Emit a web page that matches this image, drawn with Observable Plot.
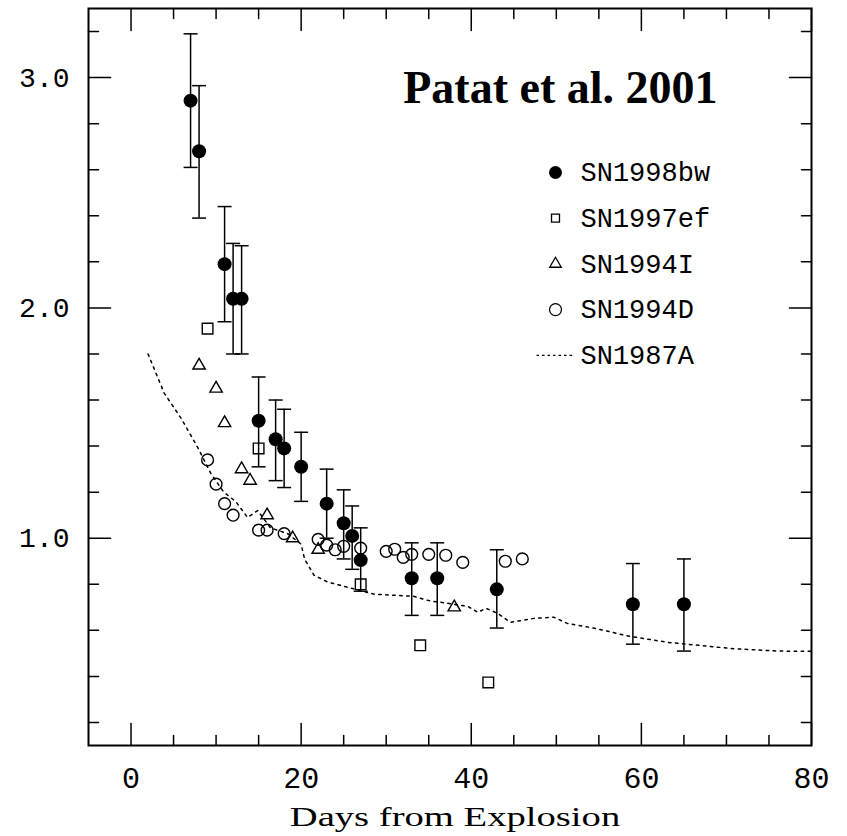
<!DOCTYPE html>
<html>
<head>
<meta charset="utf-8">
<script src="https://cdn.jsdelivr.net/npm/d3@7"></script>
<script src="https://cdn.jsdelivr.net/npm/@observablehq/plot@0.6"></script>
<style>
  html, body { margin: 0; padding: 0; background: #fff; }
  #chart svg { display: block; }
</style>
</head>
<body>
<div id="chart"></div>
<script>
// ---- Data ----
// SN1998bw : filled circles with error bars
const bwDay = [7, 8, 11, 12, 13, 15, 17, 18, 20, 23, 25, 26, 27, 33, 36, 43, 59, 65];
const bwVal = [2.90, 2.68, 2.19, 2.04, 2.04, 1.51, 1.43, 1.39, 1.31, 1.15, 1.065, 1.01, 0.905, 0.826, 0.826, 0.778, 0.713, 0.713];
const bwHi  = [3.19, 2.965, 2.44, 2.28, 2.27, 1.70, 1.60, 1.56, 1.46, 1.30, 1.21, 1.14, 1.045, 0.98, 0.98, 0.95, 0.89, 0.91];
const bwLo  = [2.61, 2.39, 1.94, 1.80, 1.80, 1.31, 1.25, 1.22, 1.16, 1.00, 0.91, 0.865, 0.77, 0.665, 0.665, 0.61, 0.54, 0.51];

// SN1997ef : open squares
const efDay = [9, 15, 27, 34, 42];
const efVal = [1.91, 1.39, 0.80, 0.535, 0.374];

// SN1994I : open triangles
const iDay = [8, 10, 11, 13, 14, 16, 19, 22, 38];
const iVal = [1.75, 1.65, 1.50, 1.30, 1.25, 1.10, 1.00, 0.95, 0.70];

// SN1994D : open circles
const dDay = [9, 10, 11, 12, 15, 16, 18, 22, 23, 24, 25, 27, 30, 31, 32, 33, 35, 37, 39, 44, 46];
const dVal = [1.34, 1.235, 1.15, 1.10, 1.035, 1.035, 1.02, 0.995, 0.97, 0.95, 0.965, 0.957, 0.943, 0.952, 0.917, 0.93, 0.93, 0.926, 0.895, 0.90, 0.91];

// SN1987A : dotted curve
const aDay = [2.0, 3.9, 5.9, 7.9, 9.4, 10.9, 12.3, 13.7, 14.9, 16.4, 18.4, 20.0, 20.4, 21.5, 23.1, 26.2, 28.6, 33.2, 35.3, 36.4, 39.6, 40.8, 41.7, 43.1, 44.6, 47.4, 49.7, 51.3, 54.4, 58.5, 63.1, 70.9, 76, 80];
const aVal = [1.80, 1.63, 1.52, 1.39, 1.28, 1.20, 1.16, 1.09, 1.12, 1.045, 1.02, 0.974, 0.91, 0.84, 0.81, 0.78, 0.757, 0.748, 0.726, 0.722, 0.704, 0.678, 0.696, 0.674, 0.635, 0.652, 0.657, 0.63, 0.61, 0.575, 0.548, 0.52, 0.51, 0.509];

// Axes / ticks / labels
const xDomain = [-5, 80];
const yDomain = [0.1, 3.3];
const xMajor = [0, 20, 40, 60, 80];
const xMinor = [5, 10, 15, 25, 30, 35, 45, 50, 55, 65, 70, 75];
const yMajor = [1.0, 2.0, 3.0];
const yMinor = [0.2, 0.4, 0.6, 0.8, 1.2, 1.4, 1.6, 1.8, 2.2, 2.4, 2.6, 2.8, 3.2];
const xTickLabels = [0, 20, 40, 60, 80];
const yTickLabels = [1.0, 2.0, 3.0];
const xLabel = "Days from Explosion";
const title = "Patat et al. 2001";
const legendNames = ["SN1998bw", "SN1997ef", "SN1994I", "SN1994D", "SN1987A"];

// ---- Build tables ----
const bw = bwDay.map((d, i) => ({day: d, val: bwVal[i], hi: bwHi[i], lo: bwLo[i]}));
const ef = efDay.map((d, i) => ({day: d, val: efVal[i]}));
const s94I = iDay.map((d, i) => ({day: d, val: iVal[i]}));
const s94D = dDay.map((d, i) => ({day: d, val: dVal[i]}));
const s87A = aDay.map((d, i) => ({day: d, val: aVal[i]}));

// custom shapes
const capSymbol = {draw(ctx) { ctx.moveTo(-7, 0); ctx.lineTo(7, 0); }};
const dashSymbol = {draw(ctx) { ctx.moveTo(-19, 0); ctx.lineTo(19, 0); }};
const tickShape = {draw(ctx, l) { ctx.moveTo(0, 0); ctx.lineTo(0, -l); }};

const MONO = "Liberation Mono, Courier New, monospace";
const SERIF = "Liberation Serif, Times New Roman, serif";

function ticks(values, side, len) {
  const rot = {bottom: 0, top: 180, left: 90, right: -90}[side];
  const opts = {
    frameAnchor: side, length: len, rotate: rot, anchor: "start",
    shape: tickShape, stroke: "black", strokeWidth: 1.5
  };
  if (side === "bottom" || side === "top") opts.x = d => d; else opts.y = d => d;
  return Plot.vector(values, opts);
}

const legendDy = i => 164 + i * 45.7;
const legendMarks = [
  Plot.dot([0], {frameAnchor: "top-left", dx: 467, dy: legendDy(0), r: 6.5, fill: "black", stroke: "none"}),
  Plot.dot([0], {frameAnchor: "top-left", dx: 467, dy: legendDy(1), r: 4.5, symbol: "square", fill: "none", stroke: "black", strokeWidth: 1.3}),
  Plot.dot([0], {frameAnchor: "top-left", dx: 467, dy: legendDy(2), r: 4.3, symbol: "triangle", fill: "none", stroke: "black", strokeWidth: 1.3}),
  Plot.dot([0], {frameAnchor: "top-left", dx: 467, dy: legendDy(3), r: 6, symbol: "circle", fill: "none", stroke: "black", strokeWidth: 1.3}),
  Plot.dot([0], {frameAnchor: "top-left", dx: 467, dy: legendDy(4), r: 5, symbol: dashSymbol, fill: "none", stroke: "black", strokeWidth: 1.3, strokeDasharray: "2.5,3"}),
  ...legendNames.map((name, i) => Plot.text([name], {
    text: d => d, frameAnchor: "top-left", dx: 492, dy: legendDy(i),
    textAnchor: "start", lineAnchor: "middle", fontFamily: MONO, fontSize: 27, fill: "black"
  }))
];

const chart = Plot.plot({
  width: 847,
  height: 836,
  marginLeft: 88,
  marginRight: 36,
  marginTop: 8,
  marginBottom: 91,
  style: {background: "white", color: "black"},
  x: {domain: xDomain, axis: null},
  y: {domain: yDomain, axis: null},
  marks: [
    // dotted SN1987A curve
    Plot.line(s87A, {x: "day", y: "val", stroke: "black", strokeWidth: 1.5, strokeDasharray: "2.5,4.5"}),
    // error bars for SN1998bw
    Plot.ruleX(bw, {x: "day", y1: "lo", y2: "hi", stroke: "black", strokeWidth: 1.5}),
    Plot.dot(bw, {x: "day", y: "hi", symbol: capSymbol, r: 5, stroke: "black", strokeWidth: 1.5, fill: "none"}),
    Plot.dot(bw, {x: "day", y: "lo", symbol: capSymbol, r: 5, stroke: "black", strokeWidth: 1.5, fill: "none"}),
    // SN1997ef squares
    Plot.dot(ef, {x: "day", y: "val", symbol: "square", r: 6, fill: "none", stroke: "black", strokeWidth: 1.4}),
    // SN1994I triangles
    Plot.dot(s94I, {x: "day", y: "val", symbol: "triangle", r: 4.6, fill: "none", stroke: "black", strokeWidth: 1.4}),
    // SN1994D circles
    Plot.dot(s94D, {x: "day", y: "val", symbol: "circle", r: 5.9, fill: "none", stroke: "black", strokeWidth: 1.4}),
    // SN1998bw filled circles
    Plot.dot(bw, {x: "day", y: "val", r: 7, fill: "black", stroke: "none"}),
    // frame & ticks
    Plot.frame({stroke: "black", strokeWidth: 2}),
    ticks(xMajor, "bottom", 22), ticks(xMinor, "bottom", 10),
    ticks(xMajor, "top", 22), ticks(xMinor, "top", 10),
    ticks(yMajor, "left", 22), ticks(yMinor, "left", 10),
    ticks(yMajor, "right", 22), ticks(yMinor, "right", 10),
    // tick labels
    Plot.text(xTickLabels, {x: d => d, text: d => String(d), frameAnchor: "bottom", lineAnchor: "bottom", dy: 42, fontFamily: MONO, fontSize: 30, fill: "black"}),
    Plot.text(yTickLabels, {y: d => d, text: d => d.toFixed(1), frameAnchor: "left", textAnchor: "end", lineAnchor: "middle", dx: -19, fontFamily: MONO, fontSize: 28, fill: "black"}),
    // axis label
    Plot.text([xLabel], {text: d => d, frameAnchor: "bottom", lineAnchor: "bottom", dy: 80, dx: 5, fontFamily: SERIF, fontSize: 28, fill: "black"}),
    // title
    Plot.text([title], {text: d => d, frameAnchor: "top-right", textAnchor: "end", lineAnchor: "bottom", dx: -94, dy: 94, fontFamily: SERIF, fontWeight: "bold", fontSize: 46, fill: "black"}),
    ...legendMarks
  ]
});

// widen the axis-label glyphs (the original uses a wide plotter font)
d3.select(chart).selectAll("text")
  .filter(function() { return this.textContent === xLabel; })
  .each(function() {
    const t = this.getAttribute("transform") || "";
    this.setAttribute("transform", t + " scale(1.38,1)");
  });

document.getElementById("chart").appendChild(chart);
</script>
</body>
</html>
